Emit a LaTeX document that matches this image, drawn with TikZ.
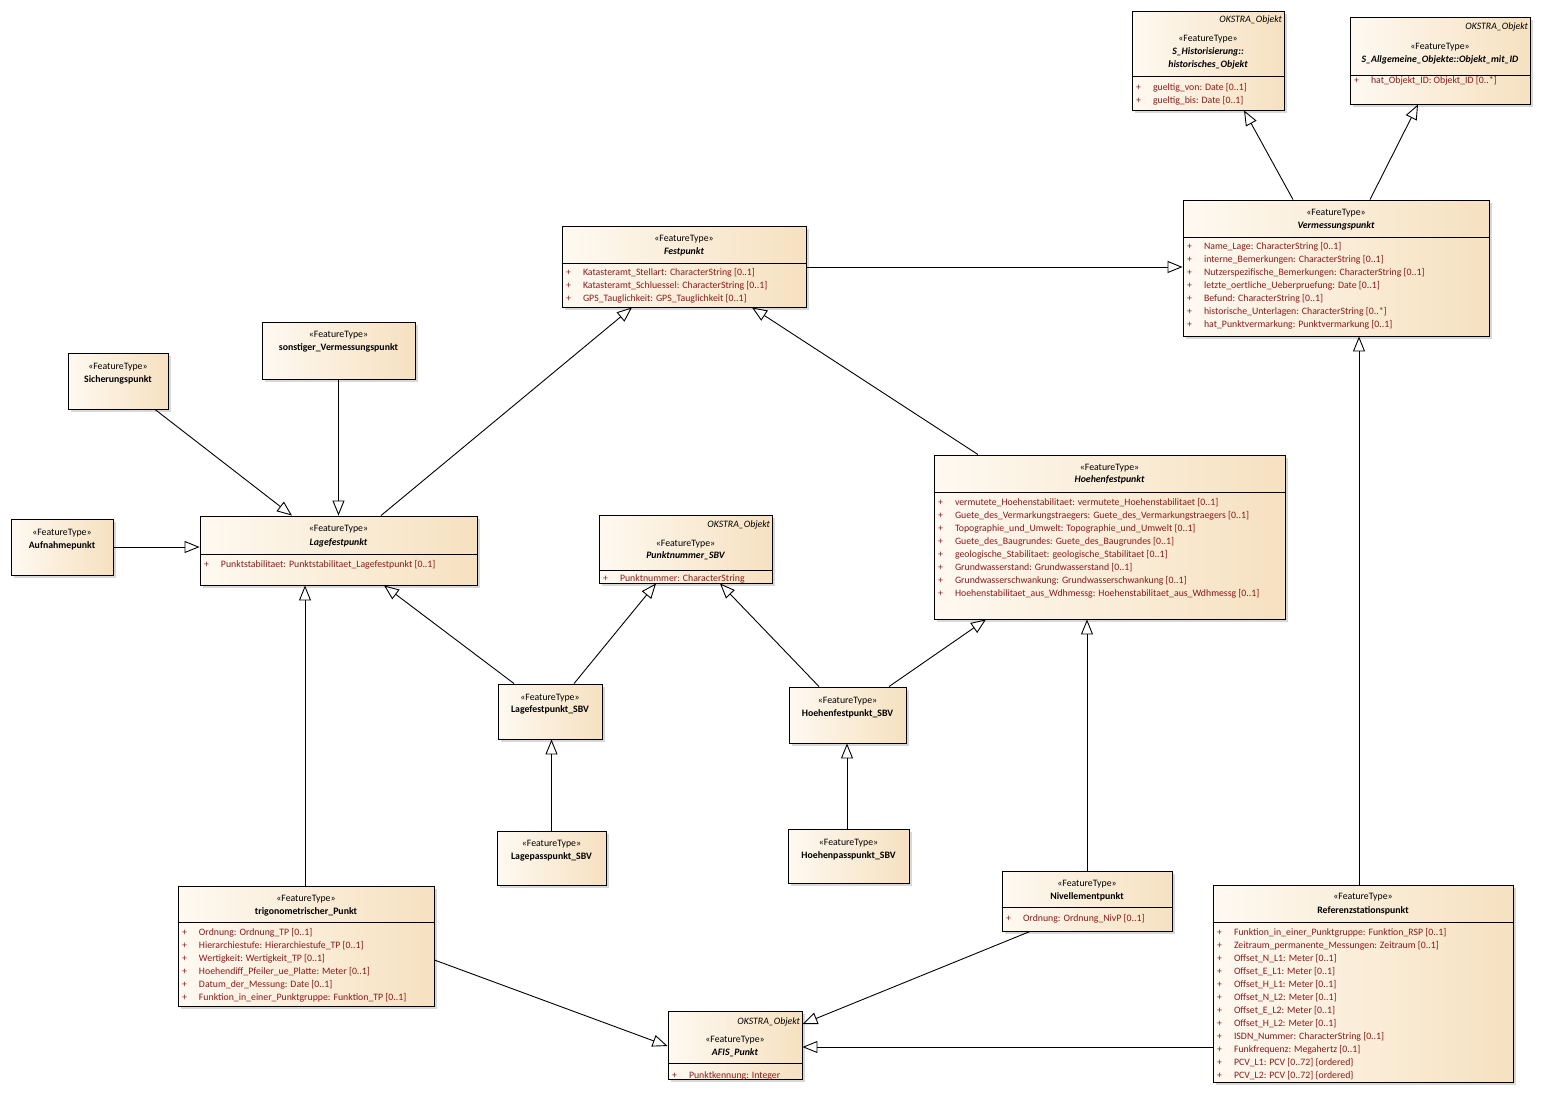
\documentclass[tikz,border=0pt]{standalone}
\usepackage{fontspec}
\setmainfont{Carlito}
\usetikzlibrary{arrows.meta,shadows}
\definecolor{clsL}{RGB}{254,249,241}
\definecolor{clsR}{RGB}{246,225,192}
\definecolor{attrred}{RGB}{140,25,25}
\newcommand{\umlfont}{\fontsize{9.8}{13}\selectfont}
\newcommand{\arw}{-{Triangle[open,length=15pt,width=12pt]}}
\newcommand{\umlbox}[5]{\node[cls,minimum width={#4-#2},minimum height={#5-#3}] (#1) at ({(#2+#4)/2},{(#3+#5)/2}) {};}
\newcommand{\sep}[2]{\draw (#1.west |- 0,#2) -- (#1.east |- 0,#2);}
\newcommand{\attrs}[3]{\foreach \itm [count=\i] in {#3}
  \node[attr] (#1-a\i) at (#1.west |- 0,{#2+13*(\i-1)}) {\makebox[17pt][l]{+}\itm};}
\tikzset{
  cls/.style={draw,inner sep=0pt,left color=clsL,right color=clsR,
    drop shadow={shadow xshift=3pt,shadow yshift=-3pt,fill=black!25,opacity=.6}},
  stereo/.style={anchor=base,inner sep=0pt,font=\umlfont},
  clsname/.style={stereo,font=\umlfont\bfseries},
  absname/.style={stereo,font=\umlfont\bfseries\itshape},
  okstra/.style={anchor=base east,inner sep=0pt,xshift=-2pt,font=\umlfont\itshape},
  attr/.style={anchor=base west,inner sep=0pt,xshift=4pt,text=attrred,font=\umlfont}
}
\begin{document}
\begin{tikzpicture}[x=1pt,y=-1pt,line width=0.9pt]
\path[fill=white] (0,0) rectangle (1541,1093);
\useasboundingbox (0,0) rectangle (1541,1093);
%class boxes
\umlbox{hist}{1132}{11}{1284}{110}
\umlbox{objid}{1350}{17}{1530}{104}
\umlbox{verm}{1183}{200}{1489}{336}
\umlbox{fest}{562}{226}{806}{307}
\umlbox{sich}{68}{353}{168}{409}
\umlbox{sonst}{262}{322}{415}{379}
\umlbox{aufn}{11}{519}{113}{575}
\umlbox{lage}{200}{516}{477}{585}
\umlbox{pnr}{599}{515}{772}{583}
\umlbox{hoehe}{934}{455}{1285}{619}
\umlbox{lsbv}{498}{684}{602}{739}
\umlbox{lpass}{497}{831}{606}{885}
\umlbox{hsbv}{789}{687}{906}{743}
\umlbox{hpass}{788}{829}{909}{883}
\umlbox{trig}{178}{886}{434}{1006}
\umlbox{nivp}{1002}{871}{1172}{931}
\umlbox{refst}{1213}{885}{1513}{1082}
\umlbox{afis}{668}{1011}{802}{1079}
\sep{hist}{76}
\sep{objid}{75}
\sep{verm}{237}
\sep{fest}{263}
\sep{lage}{554}
\sep{pnr}{570}
\sep{hoehe}{492}
\sep{trig}{922}
\sep{nivp}{907}
\sep{refst}{922}
\sep{afis}{1063}
%headers
\node[okstra] (hist-ok) at (hist.east |- 0,22) {OKSTRA\_Objekt};
\node[stereo] (hist-st) at (hist.north |- 0,41) {«FeatureType»};
\node[absname] (hist-n1) at (hist.north |- 0,54) {S\_Historisierung::};
\node[absname] (hist-n2) at (hist.north |- 0,67) {historisches\_Objekt};
\node[okstra] (objid-ok) at (objid.east |- 0,29) {OKSTRA\_Objekt};
\node[stereo] (objid-st) at (objid.north |- 0,49) {«FeatureType»};
\node[absname] (objid-n) at (objid.north |- 0,62) {S\_Allgemeine\_Objekte::Objekt\_mit\_ID};
\node[stereo] (verm-st) at (verm.north |- 0,215) {«FeatureType»};
\node[absname] (verm-n) at (verm.north |- 0,228) {Vermessungspunkt};
\node[stereo] (fest-st) at (fest.north |- 0,241) {«FeatureType»};
\node[absname] (fest-n) at (fest.north |- 0,254) {Festpunkt};
\node[stereo] (sich-st) at (sich.north |- 0,369) {«FeatureType»};
\node[clsname] (sich-n) at (sich.north |- 0,382) {Sicherungspunkt};
\node[stereo] (sonst-st) at (sonst.north |- 0,337) {«FeatureType»};
\node[clsname] (sonst-n) at (sonst.north |- 0,350) {sonstiger\_Vermessungspunkt};
\node[stereo] (aufn-st) at (aufn.north |- 0,535) {«FeatureType»};
\node[clsname] (aufn-n) at (aufn.north |- 0,548) {Aufnahmepunkt};
\node[stereo] (lage-st) at (lage.north |- 0,531) {«FeatureType»};
\node[absname] (lage-n) at (lage.north |- 0,545) {Lagefestpunkt};
\node[okstra] (pnr-ok) at (pnr.east |- 0,527) {OKSTRA\_Objekt};
\node[stereo] (pnr-st) at (pnr.north |- 0,546) {«FeatureType»};
\node[absname] (pnr-n) at (pnr.north |- 0,558) {Punktnummer\_SBV};
\node[stereo] (hoehe-st) at (hoehe.north |- 0,470) {«FeatureType»};
\node[absname] (hoehe-n) at (hoehe.north |- 0,482) {Hoehenfestpunkt};
\node[stereo] (lsbv-st) at (lsbv.north |- 0,700) {«FeatureType»};
\node[clsname] (lsbv-n) at (lsbv.north |- 0,712) {Lagefestpunkt\_SBV};
\node[stereo] (lpass-st) at (lpass.north |- 0,846) {«FeatureType»};
\node[clsname] (lpass-n) at (lpass.north |- 0,859) {Lagepasspunkt\_SBV};
\node[stereo] (hsbv-st) at (hsbv.north |- 0,703) {«FeatureType»};
\node[clsname] (hsbv-n) at (hsbv.north |- 0,716) {Hoehenfestpunkt\_SBV};
\node[stereo] (hpass-st) at (hpass.north |- 0,845) {«FeatureType»};
\node[clsname] (hpass-n) at (hpass.north |- 0,858) {Hoehenpasspunkt\_SBV};
\node[stereo] (trig-st) at (trig.north |- 0,901) {«FeatureType»};
\node[clsname] (trig-n) at (trig.north |- 0,914) {trigonometrischer\_Punkt};
\node[stereo] (nivp-st) at (nivp.north |- 0,886) {«FeatureType»};
\node[clsname] (nivp-n) at (nivp.north |- 0,899) {Nivellementpunkt};
\node[stereo] (refst-st) at (refst.north |- 0,899) {«FeatureType»};
\node[clsname] (refst-n) at (refst.north |- 0,913) {Referenzstationspunkt};
\node[okstra] (afis-ok) at (afis.east |- 0,1024) {OKSTRA\_Objekt};
\node[stereo] (afis-st) at (afis.north |- 0,1042) {«FeatureType»};
\node[absname] (afis-n) at (afis.north |- 0,1055) {AFIS\_Punkt};
%attributes
\attrs{hist}{90}{gueltig\_von: Date [0..1], gueltig\_bis: Date [0..1]}
\attrs{objid}{83}{hat\_Objekt\_ID: Objekt\_ID [0..*]}
\attrs{verm}{249}{Name\_Lage: CharacterString [0..1],
  interne\_Bemerkungen: CharacterString [0..1],
  Nutzerspezifische\_Bemerkungen: CharacterString [0..1],
  letzte\_oertliche\_Ueberpruefung: Date [0..1],
  Befund: CharacterString [0..1],
  historische\_Unterlagen: CharacterString [0..*],
  hat\_Punktvermarkung: Punktvermarkung [0..1]}
\attrs{fest}{275}{Katasteramt\_Stellart: CharacterString [0..1],
  Katasteramt\_Schluessel: CharacterString [0..1],
  GPS\_Tauglichkeit: GPS\_Tauglichkeit [0..1]}
\attrs{lage}{567}{Punktstabilitaet: Punktstabilitaet\_Lagefestpunkt [0..1]}
\attrs{pnr}{581}{Punktnummer: CharacterString}
\attrs{hoehe}{505}{vermutete\_Hoehenstabilitaet: vermutete\_Hoehenstabilitaet [0..1],
  Guete\_des\_Vermarkungstraegers: Guete\_des\_Vermarkungstraegers [0..1],
  Topographie\_und\_Umwelt: Topographie\_und\_Umwelt [0..1],
  Guete\_des\_Baugrundes: Guete\_des\_Baugrundes [0..1],
  geologische\_Stabilitaet: geologische\_Stabilitaet [0..1],
  Grundwasserstand: Grundwasserstand [0..1],
  Grundwasserschwankung: Grundwasserschwankung [0..1],
  Hoehenstabilitaet\_aus\_Wdhmessg: Hoehenstabilitaet\_aus\_Wdhmessg [0..1]}
\attrs{trig}{935}{Ordnung: Ordnung\_TP [0..1],
  Hierarchiestufe: Hierarchiestufe\_TP [0..1],
  Wertigkeit: Wertigkeit\_TP [0..1],
  Hoehendiff\_Pfeiler\_ue\_Platte: Meter [0..1],
  Datum\_der\_Messung: Date [0..1],
  Funktion\_in\_einer\_Punktgruppe: Funktion\_TP [0..1]}
\attrs{nivp}{921}{Ordnung: Ordnung\_NivP [0..1]}
\attrs{refst}{935}{Funktion\_in\_einer\_Punktgruppe: Funktion\_RSP [0..1],
  Zeitraum\_permanente\_Messungen: Zeitraum [0..1],
  Offset\_N\_L1: Meter [0..1],
  Offset\_E\_L1: Meter [0..1],
  Offset\_H\_L1: Meter [0..1],
  Offset\_N\_L2: Meter [0..1],
  Offset\_E\_L2: Meter [0..1],
  Offset\_H\_L2: Meter [0..1],
  ISDN\_Nummer: CharacterString [0..1],
  Funkfrequenz: Megahertz [0..1],
  PCV\_L1: PCV [0..72] \{ordered\},
  PCV\_L2: PCV [0..72] \{ordered\}}
\attrs{afis}{1078}{Punktkennung: Integer}
%generalisations
\draw[\arw] (155,0 |- sich.south) -- (292,0 |- lage.north);
\draw[\arw] (sonst.south) -- (sonst.south |- lage.north);
\draw[\arw] (aufn.east) -- (aufn.east -| lage.west);
\draw[\arw] (381,0 |- lage.north) -- (632,0 |- fest.south);
\draw[\arw] (978,0 |- hoehe.north) -- (752,0 |- fest.south);
\draw[\arw] (fest.east |- 0,267) -- (verm.west |- 0,267);
\draw[\arw] (1293,0 |- verm.north) -- (1244,0 |- hist.south);
\draw[\arw] (1370,0 |- verm.north) -- (1418,0 |- objid.south);
\draw[\arw] (1359,0 |- refst.north) -- (1359,0 |- verm.south);
\draw[\arw] (1087,0 |- nivp.north) -- (1087,0 |- hoehe.south);
\draw[\arw] (305,0 |- trig.north) -- (305,0 |- lage.south);
\draw[\arw] (514,0 |- lsbv.north) -- (384,0 |- lage.south);
\draw[\arw] (574,0 |- lsbv.north) -- (656,0 |- pnr.south);
\draw[\arw] (819,0 |- hsbv.north) -- (720,0 |- pnr.south);
\draw[\arw] (889,0 |- hsbv.north) -- (986,0 |- hoehe.south);
\draw[\arw] (lpass.north) -- (lpass.north |- lsbv.south);
\draw[\arw] (847,0 |- hpass.north) -- (847,0 |- hsbv.south);
\draw[\arw] (trig.east |- 0,960) -- (afis.west |- 0,1046);
\draw[\arw] (1030,0 |- nivp.south) -- (afis.east |- 0,1024);
\draw[\arw] (refst.west |- 0,1047) -- (afis.east |- 0,1047);
\end{tikzpicture}
\end{document}
